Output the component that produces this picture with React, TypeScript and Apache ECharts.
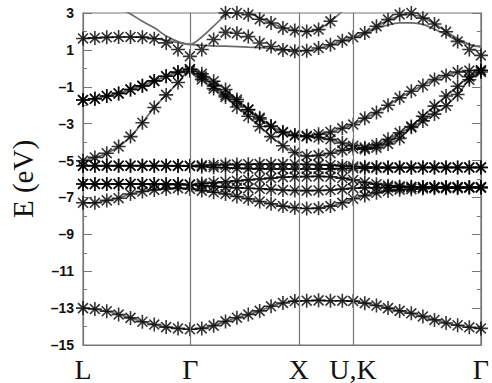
import React, { useEffect, useRef } from 'react';
import * as echarts from 'echarts';

// k-point positions of the computed points along L–Γ–X–U,K–Γ (arbitrary path units)
const kPoints = [0, 12, 24, 36, 48, 60, 72, 84, 96, 108, 120, 132, 144, 155.5, 167, 178.5, 190, 202, 214, 226, 238, 250, 262, 273, 284.7, 296.5, 308.2, 319.9, 331.7, 343.4, 355.1, 366.8, 378.5, 390.3, 402];
// high-symmetry points
const symPos = [0, 108.5, 218, 272.7, 402];
const symLabels = ['L', 'Γ', 'X', 'U,K', 'Γ'];
const dividers = [108.5, 218, 272.7];

// star (asterisk) bands, eV
const bandS = [-13.0, -13.05, -13.17, -13.35, -13.53, -13.74, -13.89, -14.03, -14.1, -14.15, -14.1, -13.95, -13.72, -13.52, -13.35, -13.15, -12.9, -12.72, -12.62, -12.6, -12.58, -12.6, -12.6, -12.62, -12.73, -12.86, -13.0, -13.15, -13.28, -13.45, -13.64, -13.81, -13.93, -14.04, -14.1];
const bandB = [-7.29, -7.29, -7.16, -7.04, -6.81, -6.68, -6.59, -6.54, -6.5, -6.54, -6.63, -6.72, -6.81, -6.95, -7.07, -7.22, -7.34, -7.47, -7.56, -7.6, -7.58, -7.47, -7.29, -7.07, -6.9, -6.75, -6.65, -6.58, -6.55, -6.52, -6.5, -6.5, -6.5, -6.48, -6.48];
const bandD4 = [-6.27, -6.27, -6.27, -6.27, -6.27, -6.27, -6.27, -6.28, -6.29, -6.3, -6.36, -6.4, -6.44, -6.48, -6.5, -6.53, -6.56, -6.6, -6.62, -6.63, -6.62, -6.6, -6.55, -6.5, -6.48, -6.47, -6.46, -6.46, -6.45, -6.45, -6.45, -6.45, -6.45, -6.45, -6.45];
const bandD3 = [-6.27, -6.27, -6.27, -6.27, -6.27, -6.27, -6.27, -6.28, -6.29, -6.3, -6.25, -6.2, -6.15, -6.1, -6.05, -6.0, -5.95, -5.9, -5.88, -5.87, -5.86, -5.88, -5.95, -6.05, -6.18, -6.28, -6.36, -6.4, -6.42, -6.43, -6.44, -6.44, -6.44, -6.44, -6.44];
const bandD2 = [-5.28, -5.28, -5.28, -5.28, -5.28, -5.28, -5.28, -5.28, -5.29, -5.3, -5.33, -5.36, -5.39, -5.42, -5.44, -5.45, -5.46, -5.46, -5.46, -5.46, -5.46, -5.45, -5.43, -5.42, -5.41, -5.4, -5.4, -5.39, -5.39, -5.38, -5.38, -5.38, -5.38, -5.38, -5.38];
const bandD1 = [-5.28, -5.28, -5.28, -5.28, -5.28, -5.28, -5.28, -5.28, -5.28, -5.28, -5.26, -5.24, -5.22, -5.21, -5.2, -5.19, -5.19, -5.19, -5.2, -5.2, -5.22, -5.25, -5.29, -5.32, -5.34, -5.35, -5.36, -5.37, -5.37, -5.37, -5.37, -5.37, -5.37, -5.37, -5.37];
const bandVB = [-5.01, -4.83, -4.6, -4.24, -3.7, -2.95, -2.12, -1.44, -0.77, -0.15, -0.6, -1.1, -1.55, -2.1, -2.6, -3.15, -3.7, -4.2, -4.56, -4.75, -4.72, -4.6, -4.45, -4.35, -4.3, -4.15, -3.85, -3.5, -3.2, -2.85, -2.48, -2.03, -1.42, -0.62, -0.2];
const bandVA = [-1.72, -1.65, -1.5, -1.36, -1.15, -0.95, -0.68, -0.43, -0.22, -0.05, -0.45, -0.95, -1.45, -1.8, -2.25, -2.75, -3.15, -3.45, -3.65, -3.66, -3.57, -3.45, -3.25, -3.05, -2.7, -2.4, -2.0, -1.6, -1.24, -0.93, -0.61, -0.39, -0.2, -0.12, -0.1];
const bandVC = [-1.72, -1.65, -1.5, -1.36, -1.15, -0.95, -0.68, -0.43, -0.2, -0.05, -0.3, -0.7, -1.15, -1.69, -2.23, -2.68, -3.13, -3.48, -3.62, -3.7, -3.75, -3.85, -4.05, -4.2, -4.38, -4.3, -4.1, -3.8, -3.15, -2.6, -2.05, -1.5, -0.97, -0.45, -0.12];
const bandC1 = [1.62, 1.65, 1.68, 1.7, 1.7, 1.69, 1.6, 1.38, 1.02, 0.65, 1.02, 1.56, 1.95, 1.9, 1.72, 1.37, 1.18, 1.0, 0.92, 0.95, 1.1, 1.28, 1.5, 1.68, 1.92, 2.28, 2.64, 2.92, 3.0, 2.72, 2.4, 1.98, 1.46, 1.02, 0.7];
const bandC2 = [null, null, null, null, null, null, null, null, null, null, null, null, 3.0, 3.0, 2.91, 2.66, 2.46, 2.19, 2.05, 2.0, 2.1, 2.55, null, null, null, null, null, null, null, null, null, null, null, null, null];

// gray (continuous) conduction-band curves that differ from the stars
const lineC1 = [1.62, 1.65, 1.68, 1.7, 1.7, 1.68, 1.62, 1.52, 1.4, 1.3, 1.25, 1.22, 1.2, 1.18, 1.15, 1.12, 1.08, 1.03, 0.98, 0.96, 1.08, 1.27, 1.48, 1.66, 1.9, 2.15, 2.35, 2.46, 2.47, 2.38, 2.12, 1.83, 1.5, 1.28, 1.2];
const lineC2 = [4.4, 4.0, 3.65, 3.3, 2.95, 2.55, 2.2, 1.75, 1.45, 1.3, 1.7, 2.29, 2.88, 3.2, 3.05, 2.72, 2.46, 2.2, 2.05, 2.0, 2.12, 2.55, 3.1, 3.6, null, null, null, null, null, null, null, null, null, null, null];
const lineC3 = [null, null, null, null, null, null, null, null, null, null, null, null, null, null, null, null, null, null, null, null, null, null, null, 1.66, 1.92, 2.28, 2.6, 2.85, 2.92, 2.75, 2.42, 2.0, 1.6, 1.3, 1.15];

const starBands = [bandS, bandB, bandD4, bandD3, bandD2, bandD1, bandVB, bandVA, bandVC, bandC1, bandC2];
const lineBands = [bandS, bandB, bandD4, bandD3, bandD2, bandD1, bandVB, bandVA, bandVC, lineC1, lineC2, lineC3];

const STAR = 'path://M5 0L5 10M0 5L10 5M1.46 1.46L8.54 8.54M1.46 8.54L8.54 1.46';
const GRAY = '#6a6a6a';
const FRAME = '#777777';

const pairs = (vals: (number | null)[]) => kPoints.map((k, i) => [k, vals[i] === null ? '-' : vals[i]]);
const starPairs = (vals: (number | null)[]) =>
  kPoints.map((k, i) => [k, vals[i]]).filter((p) => p[1] !== null);

export default function App() {
  const ref = useRef<HTMLDivElement>(null);
  useEffect(() => {
    if (!ref.current) return;
    const chart = echarts.init(ref.current, null, { renderer: 'svg' });
    const series: any[] = [];
    lineBands.forEach((b, i) => {
      series.push({
        type: 'line',
        data: pairs(b),
        showSymbol: false,
        smooth: 0.35,
        connectNulls: false,
        silent: true,
        z: 2,
        lineStyle: { color: GRAY, width: 1.7 },
        markLine:
          i === 0
            ? {
                silent: true,
                symbol: ['none', 'none'],
                label: { show: false },
                lineStyle: { color: FRAME, width: 1.2, type: 'solid' },
                data: dividers.map((d) => ({ xAxis: d })),
              }
            : undefined,
      });
    });
    starBands.forEach((b) => {
      series.push({
        type: 'scatter',
        data: starPairs(b),
        symbol: STAR,
        symbolSize: 14,
        silent: true,
        z: 3,
        itemStyle: { color: 'rgba(0,0,0,0)', borderColor: '#000', borderWidth: 1.6 },
      });
    });
    const yBase = {
      type: 'value',
      min: -15,
      max: 3,
      interval: 2,
      splitLine: { show: false },
      axisLine: { show: true, onZero: false, lineStyle: { color: FRAME, width: 1.2 } },
      axisTick: { show: true, inside: true, length: 9, lineStyle: { color: FRAME } },
      minorTick: { show: true, splitNumber: 2, length: 4, lineStyle: { color: FRAME } },
    };
    chart.setOption({
      animation: false,
      backgroundColor: '#fff',
      grid: { left: 79, right: 11, top: 13, bottom: 36, show: true, borderColor: FRAME, borderWidth: 1.2 },
      xAxis: {
        type: 'value',
        min: 0,
        max: 402,
        splitLine: { show: false },
        axisLine: { show: true, onZero: false, lineStyle: { color: FRAME, width: 1.2 } },
        axisTick: { show: false },
        axisLabel: {
          customValues: symPos,
          formatter: (v: number) => {
            const i = symPos.findIndex((p) => Math.abs(p - v) < 0.01);
            return i >= 0 ? symLabels[i] : '';
          },
          fontFamily: 'Liberation Serif',
          fontSize: 28,
          color: '#111',
          margin: 10,
        },
      },
      yAxis: [
        {
          ...yBase,
          position: 'left',
          axisLabel: {
            formatter: (v: number) => String(v).replace('-', '–'),
            fontFamily: 'Liberation Sans',
            fontSize: 14,
            fontWeight: 'bold',
            color: '#111',
            margin: 9,
          },
          name: 'E (eV)',
          nameLocation: 'middle',
          nameGap: 46,
          nameTextStyle: { fontFamily: 'Liberation Serif', fontSize: 29, color: '#111' },
        },
        { ...yBase, position: 'right', axisLabel: { show: false } },
      ],
      series,
    });
    return () => chart.dispose();
  }, []);
  return (
    <div
      ref={ref}
      style={{ position: 'fixed', left: 0, top: 0, width: 492, height: 383, background: '#fff' }}
    />
  );
}
